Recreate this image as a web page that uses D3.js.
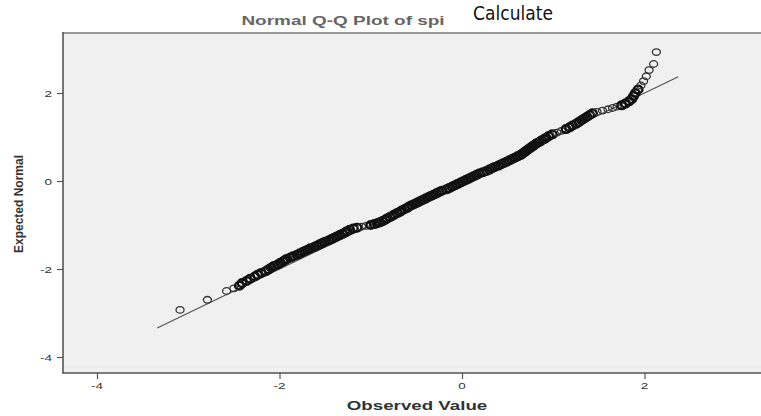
<!DOCTYPE html>
<html><head><meta charset="utf-8">
<script src="https://cdn.jsdelivr.net/npm/d3@7"></script>
<style>html,body{margin:0;padding:0;background:#fff;}svg{display:block;}</style>
</head><body>
<svg id="c" width="761" height="416"></svg>
<script>
// Data
const expectedNormal = [
 -2.93,-2.70,-2.50,-2.44,-2.38,-2.32,-2.27,-2.22,-2.17,-2.13,-2.09,-2.05,-2.01,-1.97,-1.93,-1.90,-1.86,-1.83,-1.80,-1.77,
 -1.74,-1.71,-1.68,-1.65,-1.62,-1.59,-1.56,-1.53,-1.50,-1.47,-1.44,-1.41,-1.38,-1.35,-1.32,-1.29,-1.26,-1.23,-1.20,-1.17,
 -1.14,-1.11,-1.08,-1.06,-1.04,-1.02,-1.00,-0.98,-0.96,-0.94,
 -0.91,-0.88,-0.85,-0.82,-0.79,-0.76,-0.73,-0.70,-0.67,-0.64,-0.61,-0.58,-0.55,-0.52,-0.49,-0.46,-0.43,-0.40,-0.37,-0.34,
 -0.31,-0.28,-0.25,-0.22,-0.19,-0.16,-0.13,-0.10,-0.07,-0.04,-0.01,0.02,0.05,0.08,0.11,0.14,0.17,0.20,0.23,0.26,
 0.29,0.32,0.35,0.38,0.41,0.44,0.47,0.50,0.53,0.56,0.59,0.62,0.65,0.68,0.71,0.74,0.77,0.80,0.83,0.86,
 0.89,0.92,0.95,0.98,1.02,1.06,1.10,1.14,1.18,1.22,1.26,1.30,1.34,1.38,1.42,1.46,1.50,1.54,1.57,1.60,
 1.63,1.66,1.69,1.72,1.76,1.81,1.86,1.93,2.00,2.08,2.17,2.27,2.38,2.52,2.66,2.93
];
const observedValue = [
 -3.09,-2.79,-2.58,-2.50,-2.44,-2.41,-2.36,-2.32,-2.27,-2.24,-2.20,-2.15,-2.12,-2.09,-2.06,-2.02,-1.99,-1.96,-1.94,-1.92,
 -1.88,-1.85,-1.81,-1.78,-1.75,-1.72,-1.69,-1.66,-1.62,-1.59,-1.56,-1.53,-1.50,-1.46,-1.43,-1.40,-1.37,-1.34,-1.31,-1.28,
 -1.26,-1.23,-1.19,-1.15,-1.10,-1.05,-1.00,-0.96,-0.93,-0.90,
 -0.87,-0.84,-0.82,-0.79,-0.76,-0.74,-0.71,-0.68,-0.66,-0.63,-0.60,-0.58,-0.55,-0.52,-0.49,-0.46,-0.43,-0.40,-0.37,-0.34,
 -0.31,-0.28,-0.25,-0.22,-0.17,-0.14,-0.11,-0.08,-0.05,-0.02,0.01,0.04,0.07,0.10,0.13,0.16,0.19,0.23,0.27,0.30,
 0.33,0.36,0.40,0.43,0.46,0.49,0.52,0.55,0.58,0.61,0.64,0.66,0.68,0.70,0.72,0.74,0.76,0.78,0.80,0.82,
 0.85,0.87,0.90,0.92,0.95,0.99,1.04,1.09,1.14,1.18,1.21,1.25,1.28,1.31,1.34,1.37,1.40,1.43,1.48,1.54,
 1.60,1.65,1.70,1.75,1.79,1.83,1.86,1.88,1.90,1.93,1.96,1.99,2.02,2.05,2.10,2.13
];
const refLine = [-3.34, 2.37];
const xTicks = [-4, -2, 0, 2];
const yTicks = [-4, -2, 0, 2];
const chartTitle = "Normal Q-Q Plot of spi";
const overlayText = "Calculate";
const xTitle = "Observed Value";
const yTitle = "Expected Normal";

(function () {
const svg = d3.select("#c");
const W = 761;
const pLeft = 63, pTop = 33, pBottom = 373;
const SX = 1.5; // horizontal stretch of the source image

const x = d3.scaleLinear().domain([-4, 4]).range([97, 827]);
const y = d3.scaleLinear().domain([-4, 2]).range([357, 93]);

// plot background
svg.append("rect").attr("x", pLeft).attr("y", pTop).attr("width", W - pLeft + 5).attr("height", pBottom - pTop)
  .attr("fill", "#f0f0f0");
// faint inner line near bottom
svg.append("line").attr("x1", pLeft).attr("x2", W).attr("y1", pBottom - 6).attr("y2", pBottom - 6)
  .attr("stroke", "#e4e4e4").attr("stroke-width", 1);
// top frame
svg.append("line").attr("x1", pLeft).attr("x2", W).attr("y1", pTop).attr("y2", pTop)
  .attr("stroke", "#9a9a9a").attr("stroke-width", 2);

// reference line
svg.append("line")
  .attr("x1", x(refLine[0])).attr("y1", y(refLine[0]))
  .attr("x2", x(refLine[1])).attr("y2", y(refLine[1]))
  .attr("stroke", "#555").attr("stroke-width", 1.2);

// points; overlapping circles in dense parts render darker/heavier
const pts = observedValue.map((o, i) => ({o, e: expectedNormal[i], px: x(o), py: y(expectedNormal[i])}));
pts.forEach((p, i) => {
  let m = Infinity;
  [i - 1, i + 1].forEach(j => {
    if (j >= 0 && j < pts.length) m = Math.min(m, Math.hypot(pts[j].px - p.px, pts[j].py - p.py));
  });
  p.dense = m < 4.6;
});
svg.append("g").selectAll("ellipse").data(pts).join("ellipse")
  .attr("cx", d => d.px).attr("cy", d => d.py)
  .attr("rx", d => d.dense ? 4.3 : 4).attr("ry", d => d.dense ? 3.8 : 3.3)
  .attr("fill", "none")
  .attr("stroke", d => d.dense ? "#111" : "#333")
  .attr("stroke-width", d => d.dense ? 2.4 : 1.3);

// axes
const xAxis = d3.axisBottom(x).tickValues(xTicks).tickSize(6).tickFormat(() => "");
const gx = svg.append("g").attr("transform", `translate(0,${pBottom})`).call(xAxis);
gx.select(".domain").remove();
gx.selectAll(".tick line").attr("stroke", "#555").attr("stroke-width", 1.2);
svg.append("line").attr("x1", pLeft).attr("x2", W).attr("y1", pBottom).attr("y2", pBottom)
  .attr("stroke", "#555").attr("stroke-width", 1.6);

const yAxis = d3.axisLeft(y).tickValues(yTicks).tickSize(6).tickFormat(() => "");
const gy = svg.append("g").attr("transform", `translate(${pLeft},0)`).call(yAxis);
gy.select(".domain").remove();
gy.selectAll(".tick line").attr("stroke", "#555").attr("stroke-width", 1.2);
svg.append("line").attr("x1", pLeft).attr("x2", pLeft).attr("y1", pTop - 1).attr("y2", pBottom + 0.8)
  .attr("stroke", "#555").attr("stroke-width", 1.6);

function stretchedText(g, tx, ty, txt, opts) {
  return g.append("text")
    .attr("transform", `translate(${tx},${ty}) scale(${opts.sx || SX},1)`)
    .attr("text-anchor", opts.anchor || "middle")
    .attr("font-family", "Liberation Sans, Arial, sans-serif")
    .attr("font-size", opts.size).attr("font-weight", opts.weight || "normal")
    .attr("fill", opts.fill || "#333").text(txt);
}

// tick labels
xTicks.forEach(t => stretchedText(svg, x(t), 389, t, {size: 9, fill: "#333"}));
yTicks.forEach(t => stretchedText(svg, 52, y(t) + 3.5, t, {size: 9, anchor: "end", fill: "#333"}));

// titles
stretchedText(svg, 343, 25, chartTitle, {size: 12, weight: "bold", fill: "#666", sx: 1.58});
stretchedText(svg, 417, 410, xTitle, {size: 12, weight: "bold", fill: "#333", sx: 1.56});
svg.append("text")
  .attr("transform", "translate(23,204) rotate(-90)")
  .attr("text-anchor", "middle")
  .attr("font-family", "Liberation Sans, Arial, sans-serif")
  .attr("font-size", 12).attr("font-weight", "bold").attr("fill", "#333")
  .text(yTitle);

// overlay text
svg.append("text").attr("x", 513).attr("y", 20).attr("text-anchor", "middle")
  .attr("font-family", "Liberation Sans Narrow, DejaVu Sans Condensed, sans-serif")
  .attr("font-size", 19).attr("fill", "#111").text(overlayText);
})();
</script>
</body></html>
